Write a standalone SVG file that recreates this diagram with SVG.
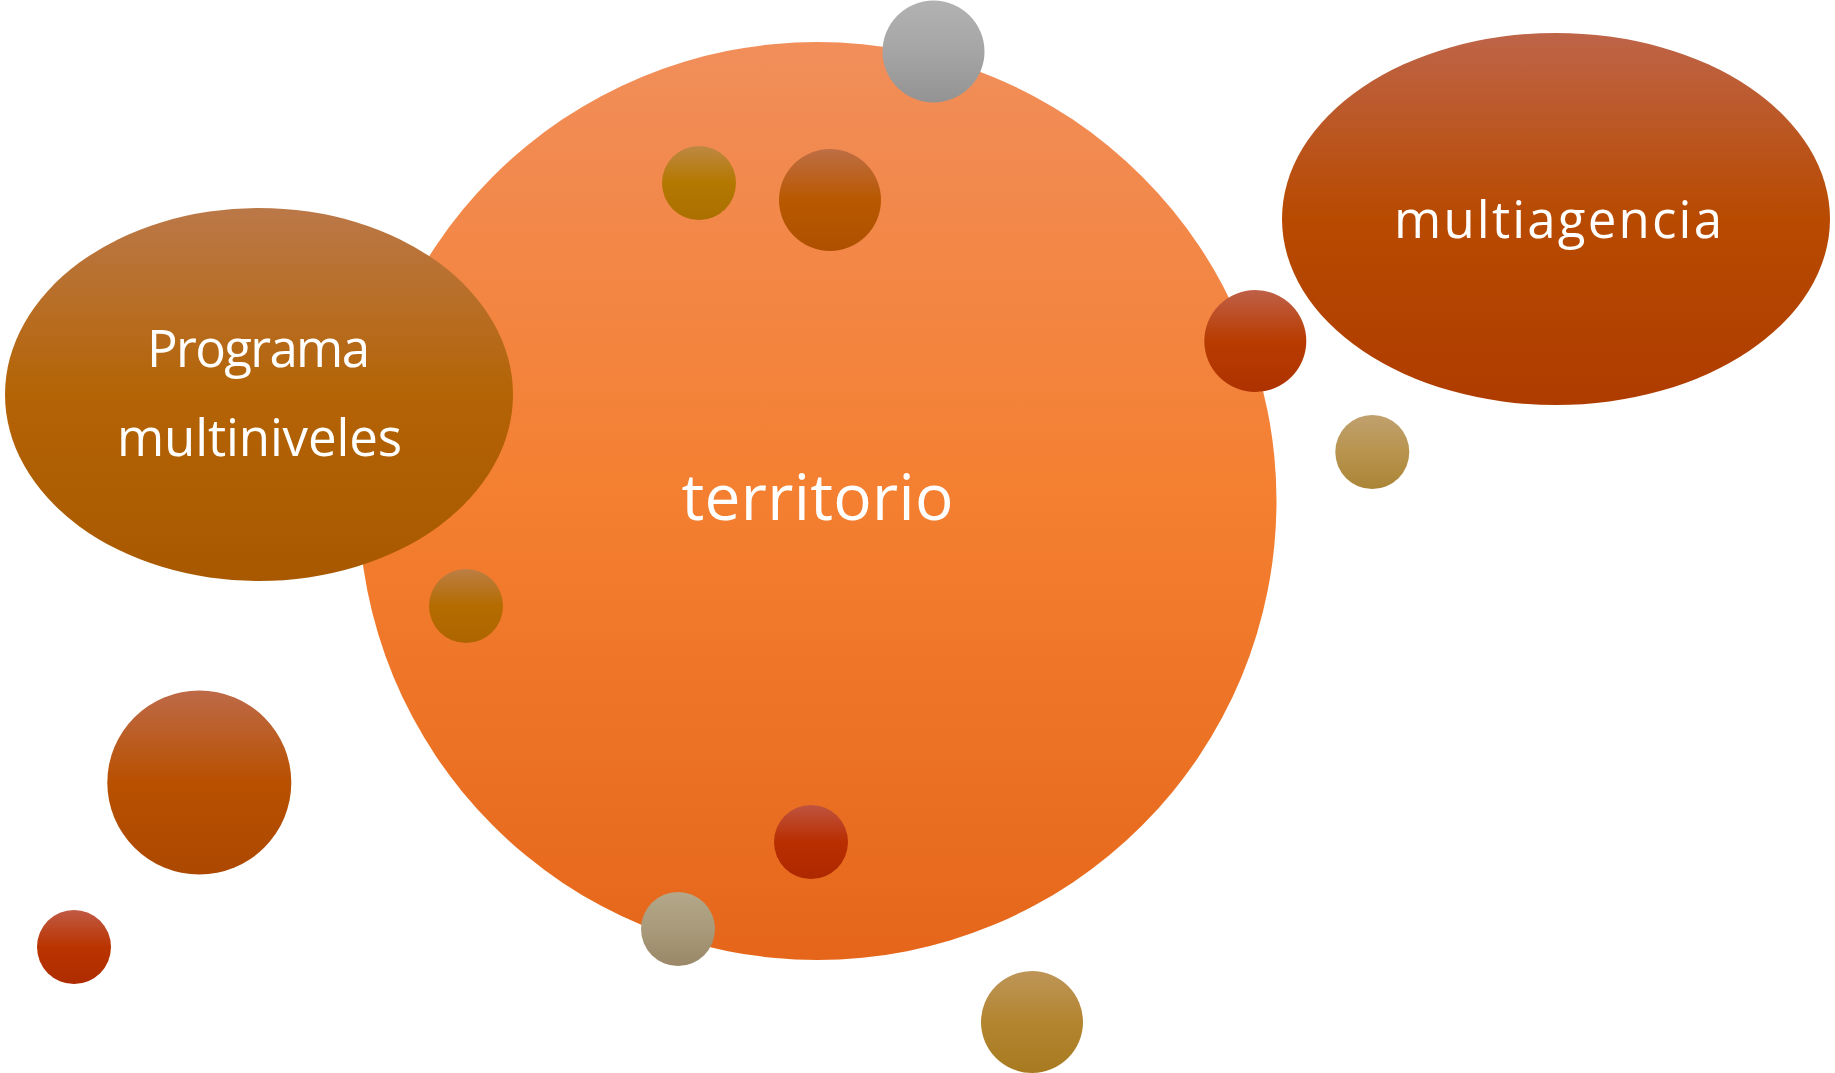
<svg xmlns="http://www.w3.org/2000/svg" width="1835" height="1073" viewBox="0 0 1835 1073">
<style>
.lbl{font-family:"Open Sans","Noto Sans","DejaVu Sans",sans-serif;fill:#ffffff;text-anchor:middle}
</style>
<defs>
<linearGradient id="gTerr" x1="0" y1="0" x2="0" y2="1"><stop offset="0" stop-color="#F18E5A"/><stop offset="0.5" stop-color="#F47F30"/><stop offset="1" stop-color="#E5661A"/></linearGradient>
<linearGradient id="gProg" x1="0" y1="0" x2="0" y2="1"><stop offset="0" stop-color="#BB7848"/><stop offset="0.5" stop-color="#B46405"/><stop offset="1" stop-color="#A85800"/></linearGradient>
<linearGradient id="gMult" x1="0" y1="0" x2="0" y2="1"><stop offset="0" stop-color="#BE6448"/><stop offset="0.5" stop-color="#B84A00"/><stop offset="1" stop-color="#AE3C00"/></linearGradient>
<linearGradient id="gGrey" x1="0" y1="0" x2="0" y2="1"><stop offset="0" stop-color="#B2B2B2"/><stop offset="0.5" stop-color="#A5A5A5"/><stop offset="1" stop-color="#939393"/></linearGradient>
<linearGradient id="gOlive" x1="0" y1="0" x2="0" y2="1"><stop offset="0" stop-color="#BE8843"/><stop offset="0.5" stop-color="#B47800"/><stop offset="1" stop-color="#AA7000"/></linearGradient>
<linearGradient id="gBrown" x1="0" y1="0" x2="0" y2="1"><stop offset="0" stop-color="#BE6E45"/><stop offset="0.5" stop-color="#B85800"/><stop offset="1" stop-color="#AE5000"/></linearGradient>
<linearGradient id="gRed" x1="0" y1="0" x2="0" y2="1"><stop offset="0" stop-color="#BF6048"/><stop offset="0.5" stop-color="#B83C00"/><stop offset="1" stop-color="#AE3200"/></linearGradient>
<linearGradient id="gTan" x1="0" y1="0" x2="0" y2="1"><stop offset="0" stop-color="#C0A06E"/><stop offset="0.5" stop-color="#B8944E"/><stop offset="1" stop-color="#AA8436"/></linearGradient>
<linearGradient id="gOliveB" x1="0" y1="0" x2="0" y2="1"><stop offset="0" stop-color="#BC7E45"/><stop offset="0.5" stop-color="#B46C00"/><stop offset="1" stop-color="#AE6500"/></linearGradient>
<linearGradient id="gBigBrown" x1="0" y1="0" x2="0" y2="1"><stop offset="0" stop-color="#BE6A48"/><stop offset="0.5" stop-color="#B85000"/><stop offset="1" stop-color="#AC4800"/></linearGradient>
<linearGradient id="gSmallRed" x1="0" y1="0" x2="0" y2="1"><stop offset="0" stop-color="#C05A45"/><stop offset="0.5" stop-color="#BA3400"/><stop offset="1" stop-color="#AE2C00"/></linearGradient>
<linearGradient id="gRedIn" x1="0" y1="0" x2="0" y2="1"><stop offset="0" stop-color="#BF5440"/><stop offset="0.5" stop-color="#B82E00"/><stop offset="1" stop-color="#AE2800"/></linearGradient>
<linearGradient id="gGreyTan" x1="0" y1="0" x2="0" y2="1"><stop offset="0" stop-color="#B4A88A"/><stop offset="0.5" stop-color="#A89A7A"/><stop offset="1" stop-color="#9A8868"/></linearGradient>
<linearGradient id="gGold" x1="0" y1="0" x2="0" y2="1"><stop offset="0" stop-color="#BE9558"/><stop offset="0.5" stop-color="#B38530"/><stop offset="1" stop-color="#A87A20"/></linearGradient>
</defs>
<rect width="1835" height="1073" fill="#ffffff"/>
<g id="connectors"></g>
<g id="territorio">
<circle cx="817.5" cy="501" r="459" fill="url(#gTerr)"/>
<text class="lbl" x="817.5" y="520" font-size="64" textLength="272" lengthAdjust="spacing">territorio</text>
</g>
<g id="programa">
<ellipse cx="259" cy="394.5" rx="254" ry="186.5" fill="url(#gProg)"/>
<text class="lbl" x="258.5" y="367" font-size="51" textLength="223" lengthAdjust="spacing">Programa</text>
<text class="lbl" x="259.5" y="456" font-size="51" textLength="285" lengthAdjust="spacing">multiniveles</text>
</g>
<g id="multiagencia">
<ellipse cx="1556" cy="219" rx="274" ry="186" fill="url(#gMult)"/>
<text class="lbl" x="1558" y="238" font-size="51" textLength="328" lengthAdjust="spacing">multiagencia</text>
</g>
<g id="c-grey"><circle cx="933.5" cy="51.5" r="51" fill="url(#gGrey)"/></g>
<g id="c-olive"><circle cx="699" cy="183" r="37" fill="url(#gOlive)"/></g>
<g id="c-brown"><circle cx="830" cy="200" r="51" fill="url(#gBrown)"/></g>
<g id="c-red"><circle cx="1255.3" cy="341" r="51" fill="url(#gRed)"/></g>
<g id="c-tan"><circle cx="1372.3" cy="452" r="37" fill="url(#gTan)"/></g>
<g id="c-oliveb"><circle cx="466" cy="606" r="37" fill="url(#gOliveB)"/></g>
<g id="c-bigbrown"><circle cx="199.3" cy="782.5" r="92" fill="url(#gBigBrown)"/></g>
<g id="c-smallred"><circle cx="74" cy="947" r="37" fill="url(#gSmallRed)"/></g>
<g id="c-redin"><circle cx="811" cy="842" r="37" fill="url(#gRedIn)"/></g>
<g id="c-greytan"><circle cx="678" cy="929" r="37" fill="url(#gGreyTan)"/></g>
<g id="c-gold"><circle cx="1032" cy="1022" r="51" fill="url(#gGold)"/></g>
</svg>
